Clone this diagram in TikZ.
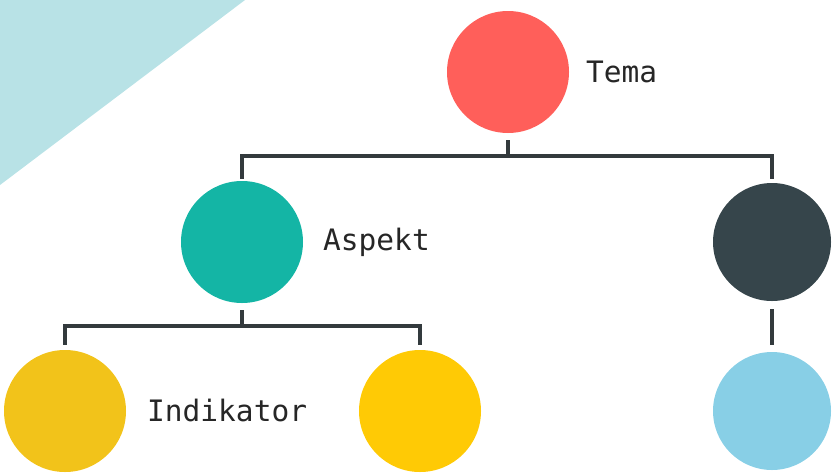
\documentclass[tikz,border=0pt]{standalone}
\usepackage{fontspec}
\newfontfamily\labelfont{DejaVu Sans Mono}
\definecolor{tri}{HTML}{B8E2E6}
\definecolor{cred}{HTML}{FF5F5A}
\definecolor{cteal}{HTML}{14B5A5}
\definecolor{cdark}{HTML}{36454B}
\definecolor{cyel}{HTML}{F2C31A}
\definecolor{cyel2}{HTML}{FFCA05}
\definecolor{cblue}{HTML}{88CFE6}
\definecolor{cline}{HTML}{333A3D}
\begin{document}
\begin{tikzpicture}[x=1pt,y=-1pt,
  dot/.style={circle,draw=none,minimum size=122pt,inner sep=0pt},
  conn/.style={draw=cline,line width=3.8pt},
  lbl/.style={font=\labelfont\fontsize{29.5}{32}\selectfont,text=black!85,anchor=west,inner sep=0pt}]
\useasboundingbox (0,0) rectangle (832,472);
\fill[tri] (0,0) -- (245,0) -- (0,185) -- cycle;
\node[dot,fill=cred] (tema) at (508,72) {};
\node[dot,fill=cteal] (aspekt) at (242,242) {};
\node[dot,fill=cdark,minimum size=118pt] (dark) at (772,242) {};
\node[dot,fill=cyel] (ind1) at (65,411) {};
\node[dot,fill=cyel2] (ind2) at (420,411) {};
\node[dot,fill=cblue,minimum size=118pt] (blue) at (772,411) {};
\node[lbl] (ltema) at (586,72) {Tema};
\node[lbl] (laspekt) at (323,242) {Aspekt};
\node[lbl] (lind) at (147,410) {Indikator};
\coordinate (j1) at (508,156);
\coordinate (j2) at (242,326);
\draw[conn] ([yshift=-7pt]tema.south) -- (j1);
\draw[conn] ([yshift=2pt]aspekt.north) -- (aspekt.north |- j1) -- (dark.north |- j1) -- ([yshift=4pt]dark.north);
\draw[conn] ([yshift=-7pt]aspekt.south) -- (j2);
\draw[conn] ([yshift=5pt]ind1.north) -- (ind1.north |- j2) -- (ind2.north |- j2) -- ([yshift=5pt]ind2.north);
\draw[conn] ([yshift=-8pt]dark.south) -- ([yshift=7pt]blue.north);
\end{tikzpicture}
\end{document}
